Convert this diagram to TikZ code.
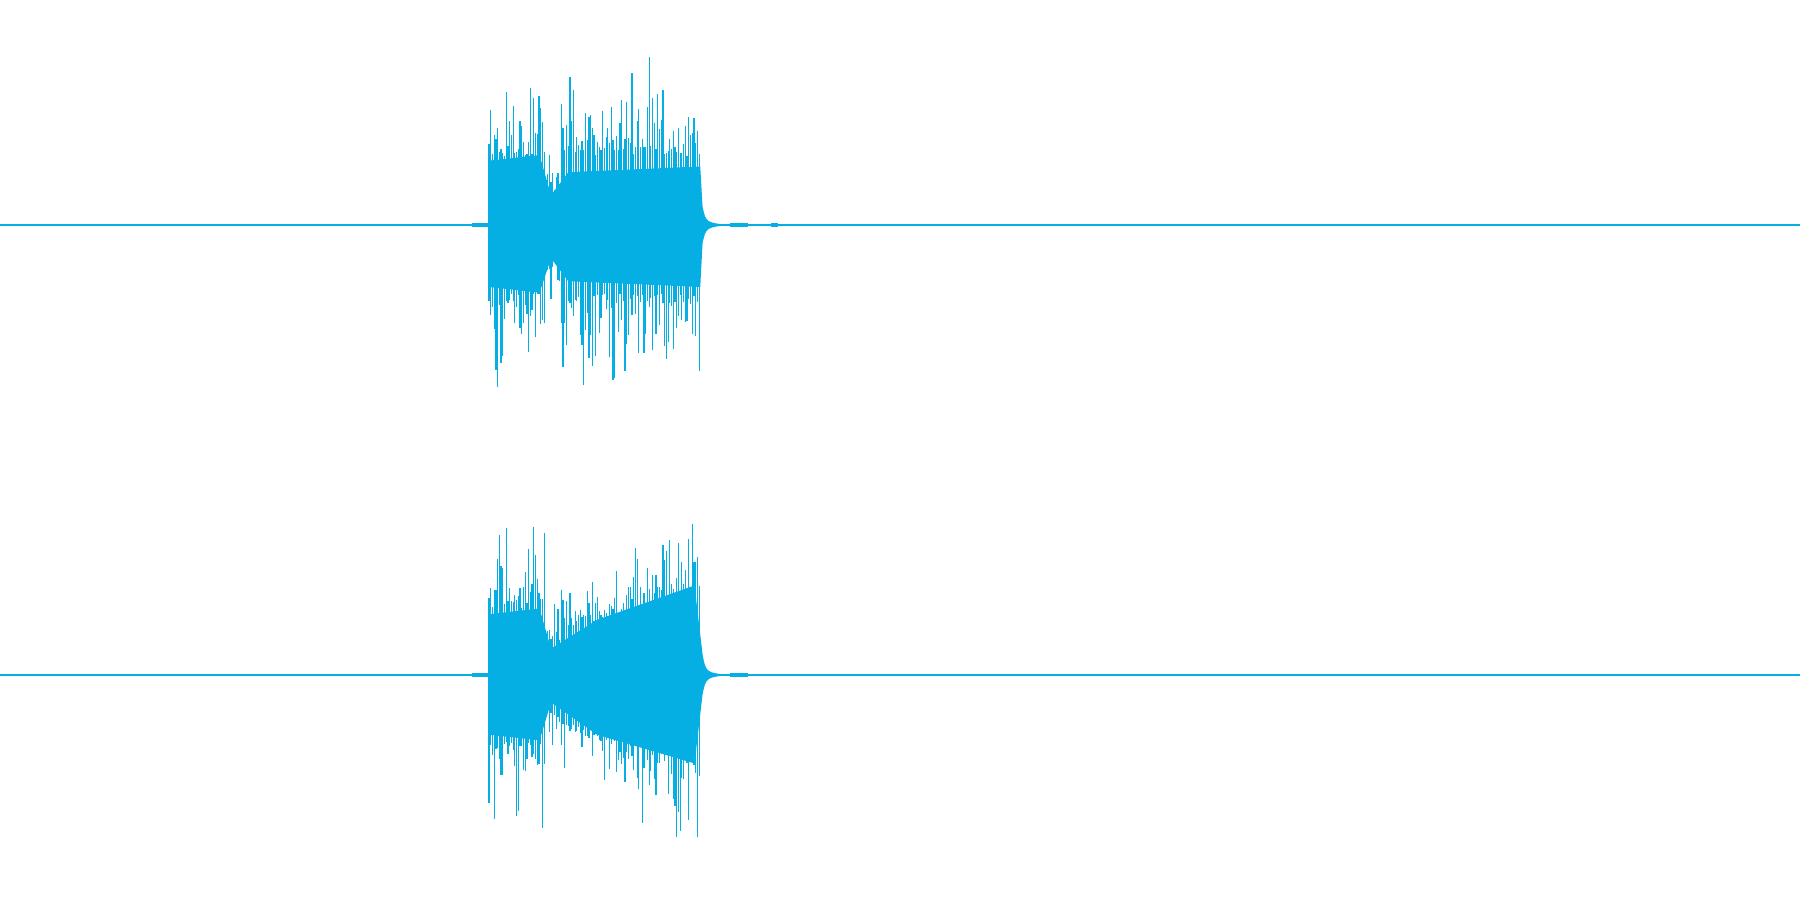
\documentclass[tikz,border=0pt]{standalone}
\usepackage{tikz}
\definecolor{wave}{HTML}{05AEE3}
\begin{document}
\begin{tikzpicture}[x=0.01cm,y=-0.01cm]
  \tikzset{trace/.style={wave,line width=0.3pt}, core/.style={fill=wave,draw=none}}
  \useasboundingbox (0,0) rectangle (1568,784);
  \pgfmathsetseed{7}
  % baselines
  \draw[trace] (0,196) -- (1568,196);
  \draw[trace] (0,588) -- (1568,588);
  \draw[wave,line width=0.8pt] (411,196) -- (425,196) (636,196) -- (652,196) (672,196) -- (678,196);
  \draw[wave,line width=0.8pt] (411,588) -- (425,588) (636,588) -- (652,588);
  % dense cores
  \fill[core] (426,140) -- (470,135) -- (480,170) -- (495,150) -- (610,145)
    -- (612,180) .. controls (615,194) .. (636,196) .. controls (615,198) .. (612,212)
    -- (610,250) -- (495,245) -- (480,225) -- (470,255) -- (426,250) -- cycle;
  \fill[core] (426,535) -- (470,530) -- (480,565) -- (520,540) -- (605,510)
    -- (612,570) .. controls (615,586) .. (636,588) .. controls (615,590) .. (612,605)
    -- (605,665) -- (520,640) -- (480,612) -- (470,645) -- (426,640) -- cycle;
  % spikes
  \foreach \x in {426,427.5,...,610} {
    \pgfmathsetmacro{\ea}{\x<475 ? 150 : (\x<488 ? 75 : 150)}
    \pgfmathsetmacro{\eb}{\x<475 ? 145 : (\x<488 ? 75 : 100+0.6*(\x-488))}
    \pgfmathsetmacro{\u}{\ea*(0.4+0.6*rnd*rnd)}
    \pgfmathsetmacro{\d}{\ea*(0.4+0.6*rnd*rnd)}
    \pgfmathsetmacro{\p}{\eb*(0.4+0.6*rnd*rnd)}
    \pgfmathsetmacro{\q}{\eb*(0.4+0.6*rnd*rnd)}
    \draw[trace] (\x,196-\u) -- (\x,196+\d);
    \draw[trace] (\x,588-\p) -- (\x,588+\q);
  }
\end{tikzpicture}
\end{document}
